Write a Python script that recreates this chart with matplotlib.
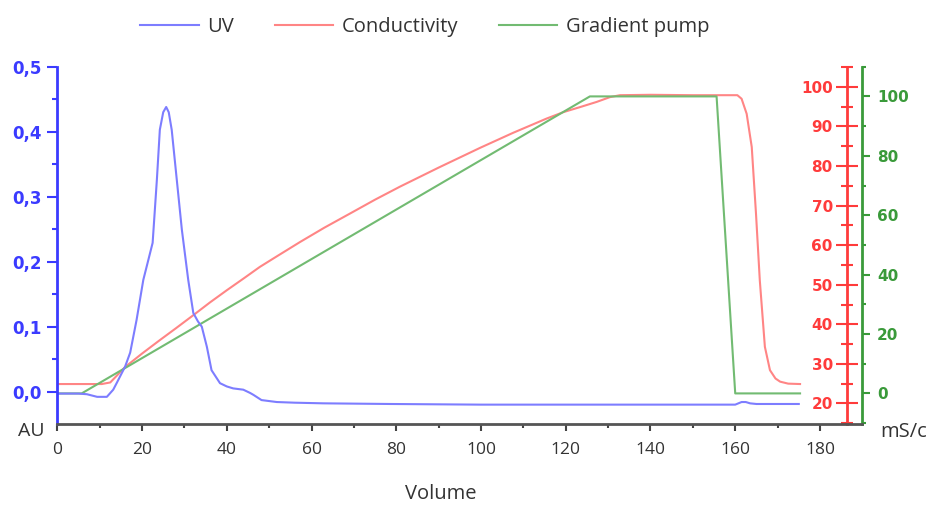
import numpy as np
import matplotlib
matplotlib.use('Agg')
import matplotlib.pyplot as plt
from matplotlib.ticker import MultipleLocator, FuncFormatter
from matplotlib.lines import Line2D

plt.rcParams['font.family'] = ['Open Sans', 'DejaVu Sans']

# UV trace (AU)
uv_x = [0, 5, 7, 9.4, 11.7, 13.2, 14, 16, 17.2, 18.7, 20.3, 21.5, 22.5, 23.5, 24.2, 25, 25.7,
        26.3, 27, 28.2, 29.4, 30.9, 32.1, 33.2, 34.1, 35.3, 36.4, 38.4, 40, 41.5, 43.9, 45.5,
        46.3, 48.2, 51.8, 56, 62.8, 78.5, 100, 130, 160, 161.5, 162.5, 163.5, 165, 175]
uv_y = [-0.003, -0.003, -0.004, -0.008, -0.008, 0.003, 0.013, 0.0385, 0.060, 0.110, 0.172, 0.203,
        0.229, 0.326, 0.403, 0.430, 0.438, 0.430, 0.403, 0.326, 0.249, 0.172, 0.121, 0.108, 0.100,
        0.069, 0.033, 0.013, 0.008, 0.005, 0.003, -0.002, -0.005, -0.013, -0.016, -0.017, -0.018,
        -0.019, -0.020, -0.020, -0.020, -0.016, -0.016, -0.018, -0.019, -0.019]

# Conductivity (mS/cm)
cond_x = [0, 10.5, 12.5, 16, 20, 24.2, 28, 32.1, 36, 40, 44, 47.8, 52, 57.3, 63, 69.1, 75, 80.9,
          90, 99.8, 107.6, 115.5, 119.4, 123.4, 127.3, 130.4, 132.8, 140, 150, 160.5, 161.5,
          162.7, 163.9, 164.9, 165.8, 167, 168.2, 169.5, 170.6, 172.5, 175.3]
cond_y = [24.9, 24.9, 25.3, 29.2, 32.6, 36.0, 39.0, 42.3, 45.5, 48.6, 51.6, 54.5, 57.3, 60.8, 64.4,
          68.0, 71.5, 74.8, 79.6, 84.6, 88.4, 92.0, 93.6, 94.9, 96.2, 97.4, 97.9, 98.0, 97.9, 97.9,
          97.0, 93.2, 84.8, 68.0, 51.1, 34.3, 28.4, 26.3, 25.5, 25.0, 24.9]

# Gradient pump (%B)
grad_x = [0, 5.75, 125.7, 155.6, 160, 175.3]
grad_y = [0, 0, 100, 100, 0, 0]

blue_axis = '#3b3bff'
red_axis = '#ff3b3b'
green_axis = '#3a9a3a'
uv_col = '#7d7dff'
cond_col = '#ff8585'
grad_col = '#72bb72'
text_col = '#333333'

fig = plt.figure(figsize=(9.28, 5.05), dpi=100)
ax = fig.add_axes([57.3 / 928, 1 - 424 / 505, (861.7 - 57.3) / 928, (424 - 66.7) / 505])
ax_r = ax.twinx()
ax_g = ax.twinx()
ax.set_zorder(3)
ax.patch.set_visible(False)

ax_r.plot(cond_x, cond_y, color=cond_col, lw=1.5)
ax_g.plot(grad_x, grad_y, color=grad_col, lw=1.5)
ax.plot(uv_x, uv_y, color=uv_col, lw=1.5)

ax.set_xlim(0, 189.85)
ax.set_ylim(-0.0498, 0.5)
ax_r.set_ylim(14.8, 105.1)
ax_g.set_ylim(-10.3, 110)

# left (UV) axis
for s in ['top', 'right']:
    ax.spines[s].set_visible(False)
ax.spines['left'].set_color(blue_axis)
ax.spines['left'].set_linewidth(2)
ax.spines['bottom'].set_color('#555555')
ax.spines['bottom'].set_linewidth(2)
ax.yaxis.set_major_locator(MultipleLocator(0.1))
ax.yaxis.set_minor_locator(MultipleLocator(0.05))
ax.yaxis.set_major_formatter(FuncFormatter(lambda v, p: f'{v:.1f}'.replace('.', ',')))
ax.tick_params(axis='y', which='major', colors=blue_axis, length=7, width=1.5, pad=4)
ax.tick_params(axis='y', which='minor', colors=blue_axis, length=3.5, width=1.5)
for lab in ax.get_yticklabels():
    lab.set_fontweight('bold')
    lab.set_family('DejaVu Sans')
    lab.set_fontsize(12)
ax.set_xticks(range(0, 181, 20))
ax.xaxis.set_minor_locator(MultipleLocator(10))
ax.tick_params(axis='x', which='major', colors='#444444', length=5, width=1.5, pad=8,
               labelsize=12.5, labelcolor=text_col)
ax.tick_params(axis='x', which='minor', colors='#444444', length=3, width=1.5)

# red (conductivity) axis
for s in ['top', 'right', 'bottom']:
    ax_r.spines[s].set_visible(False)
ax_r.spines['left'].set_visible(True)
ax_r.spines['left'].set_position(('axes', 0.9813))
ax_r.spines['left'].set_color(red_axis)
ax_r.spines['left'].set_linewidth(2)
ax_r.yaxis.set_ticks_position('left')
ax_r.yaxis.set_label_position('left')
ax_r.set_yticks(range(20, 101, 10))
ax_r.yaxis.set_minor_locator(MultipleLocator(5))
ax_r.tick_params(axis='y', which='major', direction='inout', colors=red_axis, length=16,
                 width=1.5, pad=2, labelsize=11)
ax_r.tick_params(axis='y', which='minor', direction='inout', colors=red_axis, length=9, width=1.5)
for lab in ax_r.get_yticklabels():
    lab.set_fontweight('bold')
    lab.set_family('DejaVu Sans')

# green (gradient) axis
for s in ['top', 'left', 'bottom']:
    ax_g.spines[s].set_visible(False)
ax_g.spines['right'].set_color(green_axis)
ax_g.spines['right'].set_linewidth(2)
ax_g.set_yticks(range(0, 101, 20))
ax_g.yaxis.set_minor_locator(MultipleLocator(10))
ax_g.tick_params(axis='y', which='major', colors=green_axis, length=6, width=1.5, pad=5,
                 labelsize=11)
ax_g.tick_params(axis='y', which='minor', colors=green_axis, length=3, width=1.5)
for lab in ax_g.get_yticklabels():
    lab.set_fontweight('bold')
    lab.set_family('DejaVu Sans')

fig.text(45 / 928, 1 - 431 / 505, 'AU', ha='right', va='center', fontsize=14, color=text_col)
fig.text(880 / 928, 1 - 432 / 505, 'mS/c', ha='left', va='center', fontsize=14.5, color=text_col)
fig.text(441 / 928, 1 - 494 / 505, 'Volume', ha='center', va='center', fontsize=14.5, color=text_col)

handles = [Line2D([], [], color=uv_col, lw=1.5),
           Line2D([], [], color=cond_col, lw=1.5),
           Line2D([], [], color=grad_col, lw=1.5)]
fig.legend(handles, ['UV', 'Conductivity', 'Gradient pump'], loc='center',
           bbox_to_anchor=(425 / 928, 1 - 27 / 505), ncol=3, frameon=False, fontsize=14.5,
           handlelength=2.9, handletextpad=0.45, columnspacing=2.0, labelcolor=text_col)

fig.savefig('out.png', dpi=100)
